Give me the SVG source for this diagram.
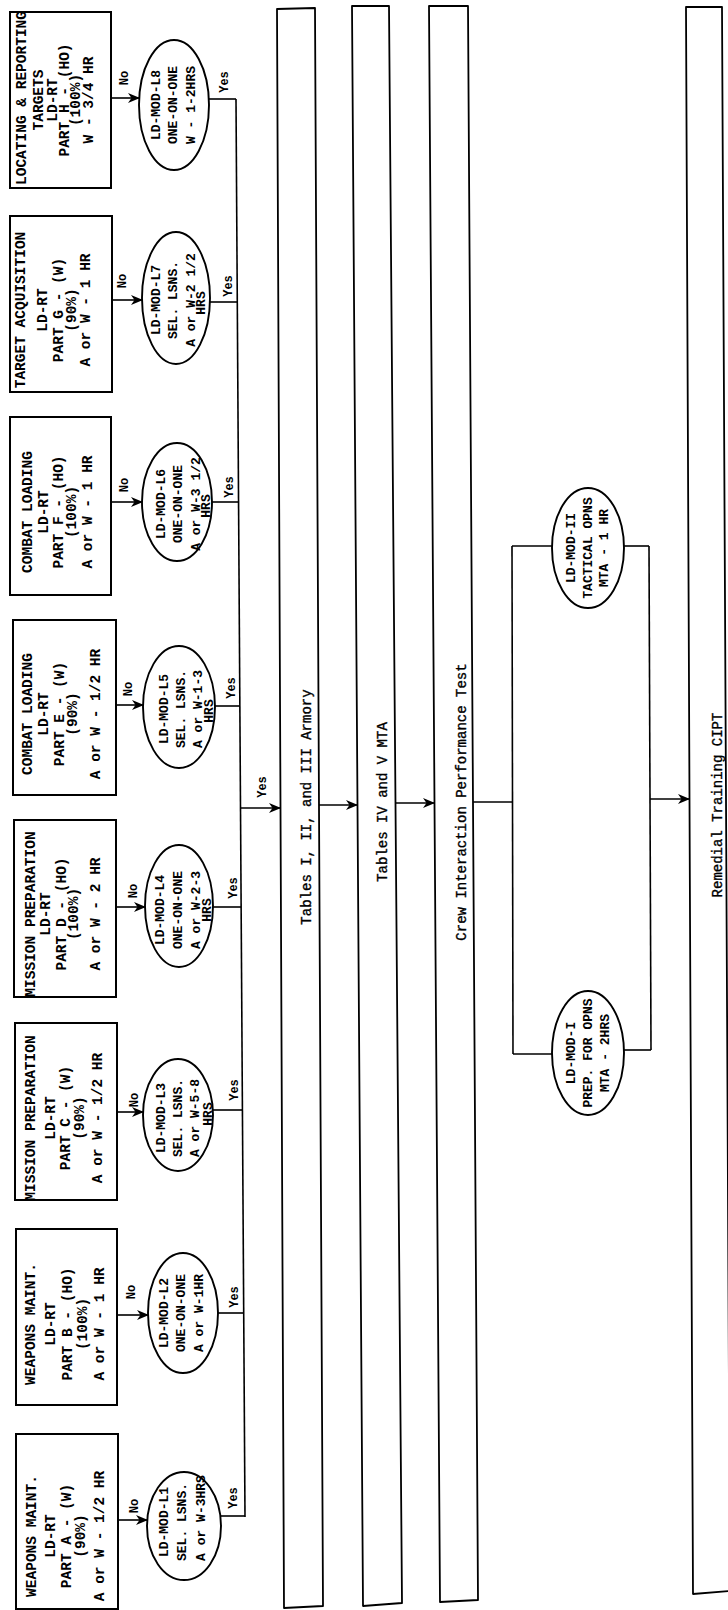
<svg xmlns="http://www.w3.org/2000/svg" width="728" height="1610" viewBox="0 0 728 1610">
<style>
.box{fill:#fff;stroke:#000;stroke-width:2}
.ell{fill:#fff;stroke:#000;stroke-width:1.9}
.bar{fill:none;stroke:#000;stroke-width:1.8;stroke-linejoin:round}
.ln{fill:none;stroke:#000;stroke-width:1.6}
.ar{marker-end:url(#ah)}
text{font-family:"Liberation Mono","DejaVu Sans Mono",monospace;fill:#000;text-anchor:middle}
.bt{font-size:14.5px;font-weight:bold}
.et{font-size:13px;font-weight:bold}
.lb{font-size:12px;font-weight:bold}
.tt{font-size:14px;stroke:#000;stroke-width:0.35}
</style>
<defs>
<marker id="ah" viewBox="0 0 12 10" refX="11" refY="5" markerWidth="12" markerHeight="10" markerUnits="userSpaceOnUse" orient="auto">
<path d="M0,0 L12,5 L0,10 L3.5,5 z" fill="#000"/>
</marker>
</defs>

<g id="connectors">
<path class="ln ar" d="M111,98 H139"/>
<path class="ln ar" d="M112,300 H142"/>
<path class="ln ar" d="M111,502 H142"/>
<path class="ln ar" d="M116,705 H143"/>
<path class="ln ar" d="M116,907 H145"/>
<path class="ln ar" d="M117,1112 H143"/>
<path class="ln ar" d="M117,1315 H148"/>
<path class="ln ar" d="M118,1520 H147"/>
<path class="ln" d="M209,99 H236"/>
<path class="ln" d="M210,302 H237.3"/>
<path class="ln" d="M212,502 H238.6"/>
<path class="ln" d="M215,706 H239.9"/>
<path class="ln" d="M213,907 H241.1"/>
<path class="ln" d="M213,1110 H242.4"/>
<path class="ln" d="M218,1313 H243.7"/>
<path class="ln" d="M221,1516 H245"/>
<path class="ln" d="M236,99 L245,1517"/>
<path class="ln ar" d="M240.5,808 H280"/>
<path class="ln ar" d="M319,805 H357"/>
<path class="ln ar" d="M395,803 H434"/>
<path class="ln" d="M473,802 H513"/>
<path class="ln" d="M512,546 L513,1054"/>
<path class="ln" d="M512,546 H552"/>
<path class="ln" d="M513,1054 H552"/>
<path class="ln" d="M624,546 H649"/>
<path class="ln" d="M624,1050 H651"/>
<path class="ln" d="M649,546 L651,1050"/>
<path class="ln ar" d="M650,799 H689"/>
<text class="lb" transform="translate(128,78) rotate(-90)">No</text>
<text class="lb" transform="translate(126,281) rotate(-90)">No</text>
<text class="lb" transform="translate(128,485) rotate(-90)">No</text>
<text class="lb" transform="translate(132,689) rotate(-90)">No</text>
<text class="lb" transform="translate(137,891) rotate(-90)">No</text>
<text class="lb" transform="translate(138,1100) rotate(-90)">No</text>
<text class="lb" transform="translate(135,1292) rotate(-90)">No</text>
<text class="lb" transform="translate(138,1506) rotate(-90)">No</text>
<text class="lb" transform="translate(228,82) rotate(-90)">Yes</text>
<text class="lb" transform="translate(232,286) rotate(-90)">Yes</text>
<text class="lb" transform="translate(233,487) rotate(-90)">Yes</text>
<text class="lb" transform="translate(235,688) rotate(-90)">Yes</text>
<text class="lb" transform="translate(237,888) rotate(-90)">Yes</text>
<text class="lb" transform="translate(238,1090) rotate(-90)">Yes</text>
<text class="lb" transform="translate(238,1297) rotate(-90)">Yes</text>
<text class="lb" transform="translate(237,1498) rotate(-90)">Yes</text>
<text class="lb" transform="translate(266,787) rotate(-90)">Yes</text>
</g>

<g id="boxH">
<rect class="box" x="10" y="12" width="101" height="176"/>
<text class="bt" transform="translate(26,98) rotate(-90)">LOCATING &amp; REPORTING</text>
<text class="bt" transform="translate(43,100) rotate(-90)">TARGETS</text>
<text class="bt" transform="translate(57,100) rotate(-90)">LD-RT</text>
<text class="bt" transform="translate(69,100) rotate(-90)">PART H - (HO)</text>
<text class="bt" transform="translate(80,100) rotate(-90)">(100%)</text>
<text class="bt" transform="translate(93,100) rotate(-90)">W - 3/4 HR</text>
</g>
<g id="boxG">
<rect class="box" x="10" y="216" width="102" height="176"/>
<text class="bt" transform="translate(25,310) rotate(-90)">TARGET ACQUISITION</text>
<text class="bt" transform="translate(47,310) rotate(-90)">LD-RT</text>
<text class="bt" transform="translate(63,310) rotate(-90)">PART G - (W)</text>
<text class="bt" transform="translate(76,310) rotate(-90)">(90%)</text>
<text class="bt" transform="translate(90,310) rotate(-90)">A or W - 1 HR</text>
</g>
<g id="boxF">
<rect class="box" x="10" y="417" width="101" height="178"/>
<text class="bt" transform="translate(32,512) rotate(-90)">COMBAT LOADING</text>
<text class="bt" transform="translate(48,512) rotate(-90)">LD-RT</text>
<text class="bt" transform="translate(63,512) rotate(-90)">PART F - (HO)</text>
<text class="bt" transform="translate(76,512) rotate(-90)">(100%)</text>
<text class="bt" transform="translate(92,512) rotate(-90)">A or W - 1 HR</text>
</g>
<g id="boxE">
<rect class="box" x="13" y="620" width="103" height="175"/>
<text class="bt" transform="translate(32,714) rotate(-90)">COMBAT LOADING</text>
<text class="bt" transform="translate(48,714) rotate(-90)">LD-RT</text>
<text class="bt" transform="translate(64,714) rotate(-90)">PART E - (W)</text>
<text class="bt" transform="translate(77,714) rotate(-90)">(90%)</text>
<text class="bt" transform="translate(100,714) rotate(-90)">A or W - 1/2 HR</text>
</g>
<g id="boxD">
<rect class="box" x="14" y="820" width="102" height="177"/>
<text class="bt" transform="translate(35,914) rotate(-90)">MISSION PREPARATION</text>
<text class="bt" transform="translate(50,914) rotate(-90)">LD-RT</text>
<text class="bt" transform="translate(66,914) rotate(-90)">PART D - (HO)</text>
<text class="bt" transform="translate(78,914) rotate(-90)">(100%)</text>
<text class="bt" transform="translate(100,914) rotate(-90)">A or W - 2 HR</text>
</g>
<g id="boxC">
<rect class="box" x="15" y="1023" width="102" height="177"/>
<text class="bt" transform="translate(35,1118) rotate(-90)">MISSION PREPARATION</text>
<text class="bt" transform="translate(55,1118) rotate(-90)">LD-RT</text>
<text class="bt" transform="translate(70,1118) rotate(-90)">PART C - (W)</text>
<text class="bt" transform="translate(84,1118) rotate(-90)">(90%)</text>
<text class="bt" transform="translate(102,1118) rotate(-90)">A or W - 1/2 HR</text>
</g>
<g id="boxB">
<rect class="box" x="16" y="1229" width="101" height="176"/>
<text class="bt" transform="translate(35,1324) rotate(-90)">WEAPONS MAINT.</text>
<text class="bt" transform="translate(55,1324) rotate(-90)">LD-RT</text>
<text class="bt" transform="translate(72,1324) rotate(-90)">PART B - (HO)</text>
<text class="bt" transform="translate(87,1324) rotate(-90)">(100%)</text>
<text class="bt" transform="translate(104,1324) rotate(-90)">A or W - 1 HR</text>
</g>
<g id="boxA">
<rect class="box" x="16" y="1434" width="102" height="175"/>
<text class="bt" transform="translate(36,1536) rotate(-90)">WEAPONS MAINT.</text>
<text class="bt" transform="translate(55,1536) rotate(-90)">LD-RT</text>
<text class="bt" transform="translate(71,1536) rotate(-90)">PART A - (W)</text>
<text class="bt" transform="translate(85,1536) rotate(-90)">(90%)</text>
<text class="bt" transform="translate(104,1536) rotate(-90)">A or W - 1/2 HR</text>
</g>

<g id="L8">
<ellipse class="ell" cx="174" cy="105" rx="35" ry="65"/>
<text class="et" transform="translate(160,105) rotate(-90)">LD-MOD-L8</text>
<text class="et" transform="translate(177,105) rotate(-90)">ONE-ON-ONE</text>
<text class="et" transform="translate(195,105) rotate(-90)">W - 1-2HRS</text>
</g>
<g id="L7">
<ellipse class="ell" cx="176" cy="298" rx="34" ry="66"/>
<text class="et" transform="translate(160,300) rotate(-90)">LD-MOD-L7</text>
<text class="et" transform="translate(177,300) rotate(-90)">SEL. LSNS.</text>
<text class="et" transform="translate(195,300) rotate(-90)">A or W-2 1/2</text>
<text class="et" transform="translate(205,303) rotate(-90)">HRS</text>
</g>
<g id="L6">
<ellipse class="ell" cx="177" cy="502" rx="35" ry="59"/>
<text class="et" transform="translate(165,504) rotate(-90)">LD-MOD-L6</text>
<text class="et" transform="translate(182,504) rotate(-90)">ONE-ON-ONE</text>
<text class="et" transform="translate(200,504) rotate(-90)">A or W-3 1/2</text>
<text class="et" transform="translate(210,506) rotate(-90)">HRS</text>
</g>
<g id="L5">
<ellipse class="ell" cx="179" cy="707" rx="36" ry="61"/>
<text class="et" transform="translate(168,709) rotate(-90)">LD-MOD-L5</text>
<text class="et" transform="translate(185,709) rotate(-90)">SEL. LSNS.</text>
<text class="et" transform="translate(202,709) rotate(-90)">A or W-1-3</text>
<text class="et" transform="translate(213,711) rotate(-90)">HRS</text>
</g>
<g id="L4">
<ellipse class="ell" cx="179" cy="906" rx="34" ry="61"/>
<text class="et" transform="translate(164,910) rotate(-90)">LD-MOD-L4</text>
<text class="et" transform="translate(182,910) rotate(-90)">ONE-ON-ONE</text>
<text class="et" transform="translate(200,910) rotate(-90)">A or W-2-3</text>
<text class="et" transform="translate(211,910) rotate(-90)">HRS</text>
</g>
<g id="L3">
<ellipse class="ell" cx="178" cy="1115" rx="35" ry="56"/>
<text class="et" transform="translate(165,1118) rotate(-90)">LD-MOD-L3</text>
<text class="et" transform="translate(182,1118) rotate(-90)">SEL. LSNS.</text>
<text class="et" transform="translate(199,1118) rotate(-90)">A or W-5-8</text>
<text class="et" transform="translate(212,1114) rotate(-90)">HRS</text>
</g>
<g id="L2">
<ellipse class="ell" cx="183" cy="1313" rx="35" ry="60"/>
<text class="et" transform="translate(168,1313) rotate(-90)">LD-MOD-L2</text>
<text class="et" transform="translate(185,1313) rotate(-90)">ONE-ON-ONE</text>
<text class="et" transform="translate(203,1313) rotate(-90)">A or W-1HR</text>
</g>
<g id="L1">
<ellipse class="ell" cx="184" cy="1526" rx="37" ry="54"/>
<text class="et" transform="translate(168,1522) rotate(-90)">LD-MOD-L1</text>
<text class="et" transform="translate(186,1522) rotate(-90)">SEL. LSNS.</text>
<text class="et" transform="translate(205,1518) rotate(-90)">A or W-3HRS</text>
</g>

<g id="bar1">
<polygon class="bar" points="277,9 315,8 323,1606 284,1608"/>
<text class="tt" transform="translate(311,807) rotate(-90)">Tables I, II, and III Armory</text>
</g>
<g id="bar2">
<polygon class="bar" points="352,6 389,6 402,1603 363,1606"/>
<text class="tt" transform="translate(387,802) rotate(-90)">Tables IV and V MTA</text>
</g>
<g id="bar3">
<polygon class="bar" points="429,6 468,6 478,1600 440,1602"/>
<text class="tt" transform="translate(466,802) rotate(-90)">Crew Interaction Performance Test</text>
</g>
<g id="bar4">
<polygon class="bar" points="686,7 722,7 730,1591 693,1594"/>
<text class="tt" transform="translate(722,805) rotate(-90)">Remedial Training CIPT</text>
</g>

<g id="MODII">
<ellipse class="ell" cx="588" cy="548" rx="36" ry="60"/>
<text class="et" transform="translate(575,548) rotate(-90)">LD-MOD-II</text>
<text class="et" transform="translate(592,548) rotate(-90)">TACTICAL OPNS</text>
<text class="et" transform="translate(608,548) rotate(-90)">MTA - 1 HR</text>
</g>
<g id="MODI">
<ellipse class="ell" cx="588" cy="1053" rx="36" ry="62"/>
<text class="et" transform="translate(575,1053) rotate(-90)">LD-MOD-I</text>
<text class="et" transform="translate(592,1053) rotate(-90)">PREP. FOR OPNS</text>
<text class="et" transform="translate(609,1053) rotate(-90)">MTA - 2HRS</text>
</g>
</svg>
